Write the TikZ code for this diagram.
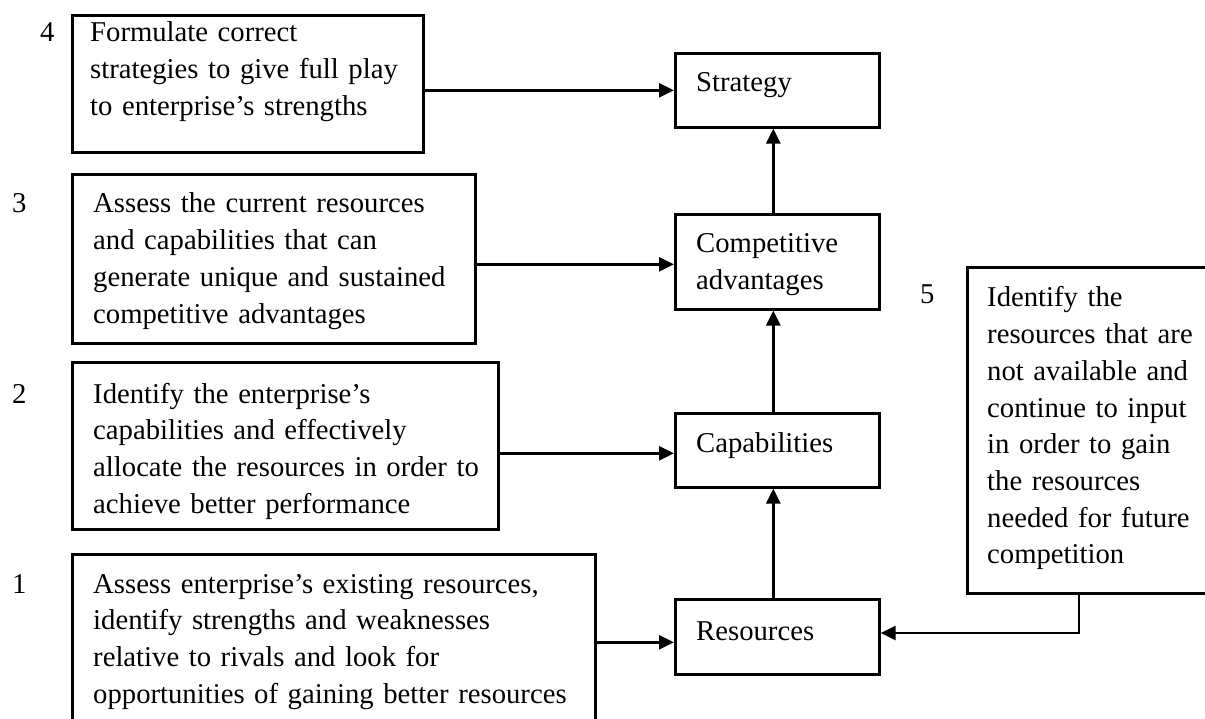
\documentclass[tikz,border=0pt]{standalone}
\usepackage{fontspec}
\setmainfont{Liberation Serif}
\usetikzlibrary{arrows.meta}
\begin{document}
\begin{tikzpicture}[x=1pt,y=-1pt,
  font=\fontsize{28.7pt}{36.7pt}\selectfont,
  box/.style={draw,line width=2.6pt,rectangle,inner sep=0pt,anchor=north west},
  txt/.style={anchor=base west,inner sep=0pt,align=left,text width=520pt},
  num/.style={anchor=base west,inner sep=0pt},
  link/.style={line width=2.8pt,-{Triangle[length=15pt,width=14pt]}}]
\clip (0,0) rectangle (1205,719);
\useasboundingbox (0,0) rectangle (1205,719);

% step boxes on the left and on the right
\node[box,minimum width=351pt,minimum height=137pt] (b4) at (71,14) {};
\node[box,minimum width=403pt,minimum height=169pt] (b3) at (71,173) {};
\node[box,minimum width=426pt,minimum height=167pt] (b2) at (71,361) {};
\node[box,minimum width=523pt,minimum height=220pt] (b1) at (71,553) {};
\node[box,minimum width=270pt,minimum height=326pt] (b5) at (966,266) {};

% central chain
\node[box,minimum width=204pt,minimum height=74pt] (st) at (674,52) {};
\node[box,minimum width=204pt,minimum height=95pt] (ca) at (674,213) {};
\node[box,minimum width=204pt,minimum height=74pt] (cp) at (674,412) {};
\node[box,minimum width=204pt,minimum height=75pt] (rs) at (674,598) {};

% texts
\node[txt] (t4) at (90,42) {Formulate correct\\strategies to give full play\\to enterprise’s strengths};
\node[txt] (t3) at (93,213) {Assess the current resources\\and capabilities that can\\generate unique and sustained\\competitive advantages};
\node[txt] (t2) at (93,403) {Identify the enterprise’s\\capabilities and effectively\\allocate the resources in order to\\achieve better performance};
\node[txt] (t1) at (93,593) {Assess enterprise’s existing resources,\\identify strengths and weaknesses\\relative to rivals and look for\\opportunities of gaining better resources};
\node[txt] (t5) at (987,307) {Identify the\\resources that are\\not available and\\continue to input\\in order to gain\\the resources\\needed for future\\competition};

\node[num] (n4) at (40,42) {4};
\node[num] (n3) at (12,213) {3};
\node[num] (n2) at (12,403) {2};
\node[num] (n1) at (12,593) {1};
\node[num] (n5) at (920,304) {5};

\node[num] (ts) at (696,92) {Strategy};
\node[txt] (tc) at (696,253) {Competitive\\advantages};
\node[num] (tp) at (696,452) {Capabilities};
\node[num] (tr) at (696,640) {Resources};

% horizontal inputs
\draw[link] (st.west -| b4.east) -- (st.west);
\coordinate (ya) at ([yshift=-2.5pt]ca.west);
\draw[link] (ya -| b3.east) -- (ya);
\coordinate (yp) at ([yshift=-3pt]cp.west);
\draw[link] (yp -| b2.east) -- (yp);
\coordinate (yr) at ([yshift=-5.5pt]rs.west);
\draw[link] (yr -| b1.east) -- (yr);

% vertical chain
\coordinate (v1) at ([xshift=-4pt]rs.north);
\draw[link] (v1) -- (v1 |- cp.south);
\coordinate (v2) at ([xshift=-4pt]cp.north);
\draw[link] (v2) -- (v2 |- ca.south);
\coordinate (v3) at ([xshift=-4pt]ca.north);
\draw[link] (v3) -- (v3 |- st.south);

% feedback from box 5
\coordinate (bend) at (1079,633);
\draw[link] (bend |- b5.south) -- (bend) -- (bend -| rs.east);
\end{tikzpicture}
\end{document}
